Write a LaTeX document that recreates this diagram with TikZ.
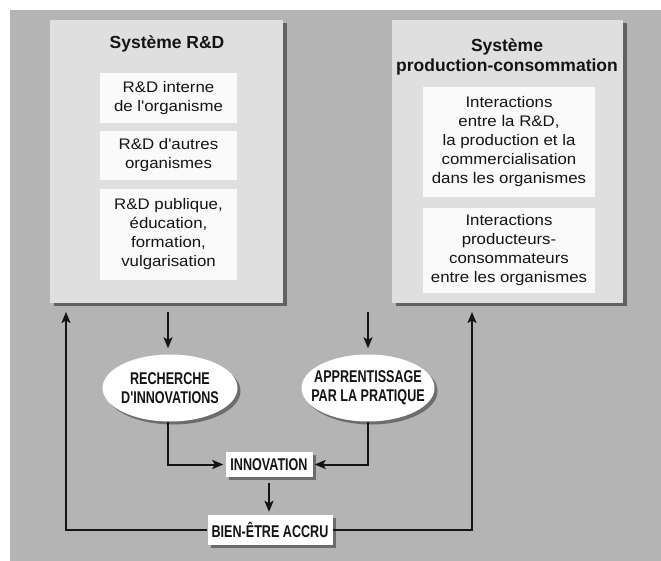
\documentclass[tikz,border=0pt]{standalone}
\usepackage{fontspec}
\setmainfont{Liberation Sans}
\newfontfamily\widesans[FakeStretch=1.1]{Liberation Sans}
\newfontfamily\narrowsans[FakeStretch=0.74]{Liberation Sans}
\usetikzlibrary{arrows.meta,positioning,shapes.geometric,shadows}
\definecolor{bggray}{HTML}{B4B4B4}
\definecolor{panelgray}{HTML}{DFDFDF}
\definecolor{boxwhite}{HTML}{FAFAFA}
\definecolor{ink}{HTML}{141414}
\tikzset{
  heading/.style={font=\bfseries\fontsize{17.5}{20}\selectfont,text=ink,align=center},
  body/.style={font=\widesans\fontsize{15.3}{19}\selectfont,text=ink,align=center},
  caps/.style={font=\narrowsans\bfseries\fontsize{17}{19}\selectfont,text=ink,align=center},
  panel/.style={fill=panelgray,inner sep=0pt,drop shadow={shadow xshift=4pt,shadow yshift=-3pt,opacity=0.45,fill=black}},
  item/.style={fill=boxwhite,inner sep=0pt},
  bubble/.style={ellipse,fill=white,inner sep=0pt,drop shadow={shadow xshift=3pt,shadow yshift=-3pt,opacity=0.4,fill=black}},
  tag/.style={fill=white,inner sep=0pt,drop shadow={shadow xshift=3pt,shadow yshift=-3pt,opacity=0.4,fill=black}},
  arr/.style={-{Stealth[length=11pt,width=9pt,inset=2.5pt]},draw=ink,line width=2pt},
  line/.style={draw=ink,line width=2pt}
}
\begin{document}
\begin{tikzpicture}[x=1pt,y=-1pt]
\path[use as bounding box] (0,0) rectangle (661,561);
\fill[bggray] (10,10) rectangle (661,561);
% two systems
\node[panel,minimum width=233pt,minimum height=283pt] (rd) at (166.5,161.5) {};
\node[panel,minimum width=231pt,minimum height=283pt] (pc) at (507.5,161.5) {};
\node[heading] (rdtitle) at (167,44) {Système R\&D};
\node[heading] (pctitle) at (507,57) {Système\\production-consommation};
\node[item,minimum width=137pt,minimum height=50pt] (rdin) at (168.5,98) {};
\node[body] at (rdin) {R\&D interne\\de l'organisme};
\node[item,minimum width=137pt,minimum height=49pt] (rdout) at (168.5,155.5) {};
\node[body] at (rdout) {R\&D d'autres\\organismes};
\node[item,minimum width=137pt,minimum height=91pt] (rdpub) at (168.5,234.5) {};
\node[body] at (rdpub) {R\&D publique,\\éducation,\\formation,\\vulgarisation};
\node[item,minimum width=172pt,minimum height=110pt] (pcin) at (509,142) {};
\node[body] at (pcin) {Interactions\\entre la R\&D,\\la production et la\\commercialisation\\dans les organismes};
\node[item,minimum width=172pt,minimum height=85pt] (pcout) at (509,250.5) {};
\node[body] at (pcout) {Interactions\\producteurs-\\consommateurs\\entre les organismes};
% learning and search
\node[bubble,minimum width=135pt,minimum height=67pt] (rech) at (170,388) {};
\node[caps] at (rech) {RECHERCHE\\D'INNOVATIONS};
\node[bubble,minimum width=133pt,minimum height=67pt] (appr) at (368,388) {};
\node[caps] at (appr) {APPRENTISSAGE\\PAR LA PRATIQUE};
\node[tag,minimum width=87pt,minimum height=25pt] (innov) at (269,464.5) {};
\node[caps] at (innov) {INNOVATION};
\node[tag,minimum width=125pt,minimum height=30pt] (bien) at (270,530) {};
\node[caps] at (bien) {BIEN-ÊTRE ACCRU};
\coordinate (fbl) at (66,303);
\coordinate (fbr) at (472,303);
% flows
\draw[arr,shorten <=9pt,shorten >=6pt] (rd.south -| 168,0) -- (rech.north -| 168,0);
\draw[arr,shorten <=9pt,shorten >=6pt] (pc.south -| appr.north) -- (appr.north);
\draw[arr,shorten >=2pt] (rech.south -| 168,0) |- (innov.west);
\draw[arr,shorten >=2pt] (appr.south) |- (innov.east);
\draw[arr,shorten <=6pt,shorten >=3pt] (innov.south) -- (bien.north -| innov.south);
\draw[arr,shorten >=9pt] (bien.west) -| (fbl);
\draw[arr,shorten >=9pt] (bien.east) -| (fbr);
\end{tikzpicture}
\end{document}
